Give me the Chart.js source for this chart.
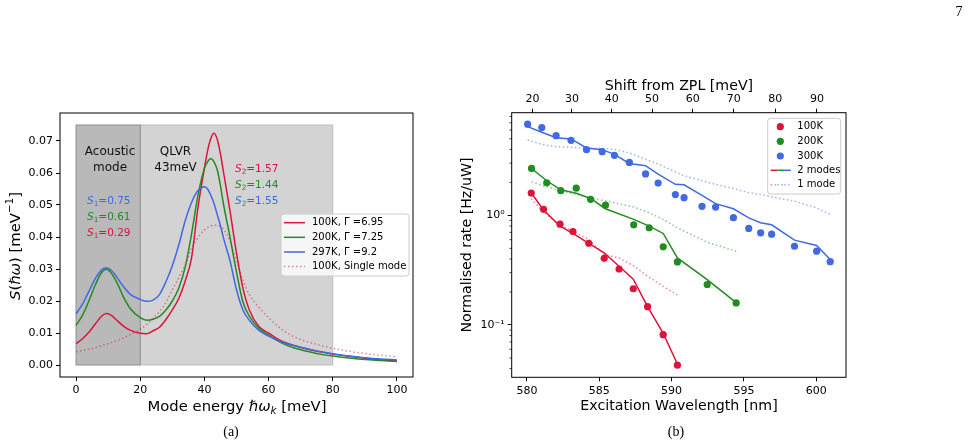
<!DOCTYPE html>
<html>
<head>
<meta charset="utf-8">
<script src="https://cdn.jsdelivr.net/npm/chart.js@4.4.0/dist/chart.umd.min.js"></script>
<style>
    body { margin: 0; background: #fff; width: 974px; height: 447px; position: relative; overflow: hidden; }
    #boxA { position: absolute; left: 0; top: 0; width: 440px; height: 447px; }
    #boxB { position: absolute; left: 440px; top: 0; width: 534px; height: 447px; }
    .cap { position: absolute; font-family: 'Liberation Serif', 'DejaVu Serif', serif; font-size: 14px; color: #000; transform: translate(-50%, -50%); }
</style>
</head>
<body>
<div id="boxA"><canvas id="chartA" width="440" height="447"></canvas></div>
<div id="boxB"><canvas id="chartB" width="534" height="447"></canvas></div>
<div class="cap" style="left:959px; top:12px;">7</div>
<div class="cap" style="left:231px; top:432px;">(a)</div>
<div class="cap" style="left:676px; top:432px;">(b)</div>

<script>
// ---------- panel (a): spectral density vs mode energy ----------
const energy = [0, 2, 4, 6, 8, 9.5, 11, 13, 15, 17, 20, 22, 24, 26, 28, 30, 32, 34, 36, 38,
    40, 41, 42, 43, 44, 45, 46, 48, 50, 52, 54, 57, 60, 64, 68, 72, 76, 80, 85, 90, 95, 100];
const s100K = [0.0067, 0.0082, 0.0102, 0.0128, 0.0153, 0.0161, 0.0155, 0.0137, 0.0120, 0.0108,
    0.0099, 0.0098, 0.0107, 0.0118, 0.0142, 0.0172, 0.0208, 0.0262, 0.0335, 0.0493,
    0.0615, 0.0670, 0.0708, 0.0724, 0.0705, 0.0660, 0.0600, 0.0480, 0.0350, 0.0240,
    0.0172, 0.0120, 0.0100, 0.0075, 0.0061, 0.0050, 0.0041, 0.0034, 0.0027, 0.0021, 0.0016, 0.0013];
const s200K = [0.0124, 0.0155, 0.0200, 0.0250, 0.0290, 0.0299, 0.0287, 0.0252, 0.0208, 0.0175,
    0.0148, 0.0140, 0.0143, 0.0152, 0.0172, 0.0200, 0.0240, 0.0305, 0.0410, 0.0530,
    0.0615, 0.0635, 0.0645, 0.0635, 0.0610, 0.0560, 0.0500, 0.0398, 0.0290, 0.0197,
    0.0153, 0.0115, 0.0093, 0.0069, 0.0053, 0.0043, 0.0034, 0.0028, 0.0022, 0.0017, 0.0014, 0.0011];
const s297K = [0.0160, 0.0190, 0.0230, 0.0270, 0.0298, 0.0304, 0.0296, 0.0270, 0.0242, 0.0220,
    0.0205, 0.0199, 0.0203, 0.0220, 0.0260, 0.0310, 0.0375, 0.0450, 0.0508, 0.0545,
    0.0557, 0.0550, 0.0530, 0.0505, 0.0470, 0.0435, 0.0395, 0.0325, 0.0235, 0.0172,
    0.0140, 0.0108, 0.0090, 0.0072, 0.0060, 0.0051, 0.0042, 0.0035, 0.0028, 0.0023, 0.0019, 0.0016];
const s100KSingle = [0.0041, 0.0045, 0.0049, 0.0054, 0.0060, 0.0065, 0.0070, 0.0077, 0.0086, 0.0096,
    0.0111, 0.0127, 0.0145, 0.0167, 0.0195, 0.0235, 0.0272, 0.0312, 0.0365, 0.0398,
    0.0422, 0.0430, 0.0434, 0.0437, 0.0436, 0.0432, 0.0424, 0.0385, 0.0325, 0.0265,
    0.0220, 0.0180, 0.0148, 0.0112, 0.0088, 0.0073, 0.0062, 0.0052, 0.0043, 0.0036, 0.0030, 0.0026];
const labelsA = ['100K, Γ =6.95', '200K, Γ =7.25', '297K, Γ =9.2', '100K, Single mode'];
const energyTicks = [0, 20, 40, 60, 80, 100];
const densityTicks = [0, 0.01, 0.02, 0.03, 0.04, 0.05, 0.06, 0.07];
const acousticBand = [0, 20];
const qlvrBand = [20, 80];
const bandTop = 0.075;
const s1Values = ['0.75', '0.61', '0.29'];   // 297K, 200K, 100K
const s2Values = ['1.57', '1.44', '1.55'];   // 100K, 200K, 297K

// ---------- panel (b): normalised rate vs excitation wavelength ----------
const wl100K = [580.30, 581.15, 582.29, 583.18, 584.28, 585.34, 586.37, 587.35, 588.34, 589.42, 590.40];
const rate100K = [1.60, 1.135, 0.832, 0.713, 0.557, 0.406, 0.324, 0.214, 0.147, 0.0815, 0.0430];
const twoMode100K = [1.60, 1.12, 0.798, 0.684, 0.554, 0.454, 0.343, 0.262, 0.147, 0.0839, 0.0440];
const oneMode100K = [1.42, 1.07, 0.810, 0.718, 0.602, 0.439, 0.409, 0.348, 0.278, 0.225, 0.188];

const wl200K = [580.32, 581.37, 582.34, 583.41, 584.40, 585.43, 587.38, 588.45, 589.42, 590.40, 592.46, 594.46];
const rate200K = [2.68, 1.98, 1.68, 1.77, 1.40, 1.24, 0.821, 0.771, 0.516, 0.376, 0.234, 0.159];
const twoMode200K = [2.68, 2.07, 1.71, 1.59, 1.43, 1.15, 0.919, 0.798, 0.684, 0.409, 0.259, 0.160];
const oneMode200K = [2.02, 1.83, 1.67, 1.56, 1.44, 1.36, 1.19, 1.06, 0.919, 0.771, 0.569, 0.471];

const wl300K = [580.05, 581.03, 582.02, 583.05, 584.12, 585.20, 586.05, 587.08, 588.20, 589.07, 590.26,
    590.86, 592.10, 593.04, 594.27, 595.33, 596.15, 596.91, 598.49, 600.02, 600.96];
const rate300K = [6.79, 6.33, 5.34, 4.84, 3.98, 3.81, 3.53, 3.04, 2.39, 1.97, 1.55,
    1.45, 1.21, 1.19, 0.952, 0.760, 0.693, 0.674, 0.523, 0.471, 0.378];
const twoMode300K = [6.46, 5.73, 5.12, 4.98, 4.12, 3.98, 3.60, 2.98, 2.84, 2.38, 1.92,
    1.90, 1.52, 1.28, 1.15, 0.95, 0.857, 0.821, 0.594, 0.531, 0.395];
const oneMode300K = [4.88, 4.45, 4.24, 4.18, 4.12, 4.09, 4.00, 3.71, 3.26, 2.94, 2.50,
    2.30, 2.07, 1.92, 1.76, 1.61, 1.55, 1.48, 1.35, 1.17, 1.02];

const labelsB = ['100K', '200K', '300K', '2 modes', '1 mode'];
const wavelengthTicks = [580, 585, 590, 595, 600];
const shiftTicks = [20, 30, 40, 50, 60, 70, 80, 90];
const zplWavelength = 575;

const RED = '#dc143c', GREEN = '#228b22', BLUE = '#4169e1';
const RED_FAINT = 'rgba(220,20,60,0.5)', GREEN_FAINT = 'rgba(34,139,34,0.5)', BLUE_FAINT = 'rgba(65,105,225,0.5)';
const FONT = '"DejaVu Sans", sans-serif';

Chart.defaults.font.family = FONT;
Chart.defaults.color = '#000';

function toXY(xs, ys) {
    return xs.map((x, i) => ({ x: x, y: ys[i] }));
}

// shift (meV) from the ZPL -> wavelength (nm)
function shiftToWl(s) {
    return 1239.842 / (1239.842 / zplWavelength - s / 1000);
}

// text with italic / sub / superscript pieces, centred on (x, y)
function drawRich(ctx, parts, x, y, size, color, rotate) {
    ctx.save();
    ctx.translate(x, y);
    if (rotate) ctx.rotate(-Math.PI / 2);
    ctx.fillStyle = color || '#000';
    ctx.textBaseline = 'middle';
    ctx.textAlign = 'left';
    const fontOf = p => (p.i ? 'italic ' : '') + ((p.sub || p.sup) ? size * 0.7 : size) + 'px ' + FONT;
    let total = 0;
    parts.forEach(p => { ctx.font = fontOf(p); total += ctx.measureText(p.t).width; });
    let cx = -total / 2;
    parts.forEach(p => {
        ctx.font = fontOf(p);
        const dy = p.sub ? size * 0.3 : (p.sup ? -size * 0.38 : 0);
        ctx.fillText(p.t, cx, dy);
        cx += ctx.measureText(p.t).width;
    });
    ctx.restore();
}

function legendFrame(ctx, l, t, r, b) {
    ctx.fillStyle = 'rgba(255,255,255,0.8)';
    ctx.strokeStyle = '#cccccc';
    ctx.lineWidth = 1;
    ctx.beginPath();
    if (ctx.roundRect) ctx.roundRect(l, t, r - l, b - t, 3);
    else ctx.rect(l, t, r - l, b - t);
    ctx.fill();
    ctx.stroke();
}

function tickAxis(ticksArr, fmt) {
    return {
        afterBuildTicks: s => { s.ticks = ticksArr.map(v => ({ value: v })); },
        ticks: { callback: fmt, font: { size: 11 }, color: '#000', padding: 3, maxRotation: 0, autoSkip: false },
        grid: { drawOnChartArea: false, drawTicks: true, tickLength: 4, tickWidth: 1, tickColor: '#000', color: '#000' },
        border: { display: false }
    };
}

// ---------- chart (a) ----------
const panelA = {
    id: 'panelA',
    beforeDatasetsDraw(chart) {
        const { ctx, scales: { x, y } } = chart;
        function band(range, fill, edge) {
            const l = x.getPixelForValue(range[0]), r = x.getPixelForValue(range[1]);
            const t = y.getPixelForValue(bandTop), b = y.getPixelForValue(0);
            ctx.fillStyle = fill;
            ctx.fillRect(l, t, r - l, b - t);
            ctx.strokeStyle = edge;
            ctx.lineWidth = 1;
            ctx.strokeRect(l, t, r - l, b - t);
        }
        ctx.save();
        band(qlvrBand, '#d3d3d3', '#bdbdbd');
        band(acousticBand, '#b9b9b9', '#8e8e8e');
        ctx.restore();
    },
    afterDraw(chart) {
        const { ctx, chartArea: a, scales: { x, y } } = chart;
        ctx.save();
        ctx.strokeStyle = '#000';
        ctx.lineWidth = 1;
        ctx.strokeRect(a.left, a.top, a.right - a.left, a.bottom - a.top);

        // region labels
        const px = v => x.getPixelForValue(v), py = v => y.getPixelForValue(v);
        drawRich(ctx, [{ t: 'Acoustic' }], px(10.6), py(0.0665), 12, '#111');
        drawRich(ctx, [{ t: 'mode' }], px(10.6), py(0.0615), 12, '#111');
        drawRich(ctx, [{ t: 'QLVR' }], px(31), py(0.0665), 12, '#111');
        drawRich(ctx, [{ t: '43meV' }], px(31), py(0.0615), 12, '#111');

        const s1Colors = [BLUE, GREEN, RED];
        s1Values.forEach((v, i) => {
            drawRich(ctx, [{ t: 'S', i: true }, { t: '1', sub: true }, { t: '=' + v }],
                px(10.2), py(0.0512 - i * 0.005), 10.5, s1Colors[i]);
        });
        const s2Colors = [RED, GREEN, BLUE];
        s2Values.forEach((v, i) => {
            drawRich(ctx, [{ t: 'S', i: true }, { t: '2', sub: true }, { t: '=' + v }],
                px(56.3), py(0.0612 - i * 0.005), 10.5, s2Colors[i]);
        });

        // axis titles
        drawRich(ctx, [{ t: 'S', i: true }, { t: '(' }, { t: 'ℏω', i: true }, { t: ')' }, { t: ' [meV' },
            { t: '−1', sup: true }, { t: ']' }], 16, 246, 14.8, '#000', true);
        drawRich(ctx, [{ t: 'Mode energy ' }, { t: 'ℏω', i: true }, { t: 'k', i: true, sub: true },
            { t: ' [meV]' }], 237, 407, 14.8, '#000');

        // legend
        legendFrame(ctx, 281, 214, 409, 276);
        const colors = [RED, GREEN, BLUE, RED_FAINT];
        const rows = [222.7, 237.3, 252, 266.5];
        labelsA.forEach((lab, i) => {
            ctx.strokeStyle = colors[i];
            ctx.lineWidth = 1.5;
            ctx.setLineDash(i === 3 ? [1.5, 2.5] : []);
            ctx.beginPath();
            ctx.moveTo(284, rows[i]);
            ctx.lineTo(305, rows[i]);
            ctx.stroke();
            ctx.setLineDash([]);
            ctx.fillStyle = '#000';
            ctx.font = '10px ' + FONT;
            ctx.textAlign = 'left';
            ctx.textBaseline = 'middle';
            ctx.fillText(lab, 312, rows[i]);
        });
        ctx.restore();
    }
};

function curve(ys, color, dash, order) {
    return {
        data: toXY(energy, ys),
        borderColor: color,
        borderWidth: 1.5,
        borderDash: dash,
        pointRadius: 0,
        fill: false,
        cubicInterpolationMode: 'monotone',
        order: order
    };
}

new Chart(document.getElementById('chartA'), {
    type: 'line',
    data: {
        datasets: [
            curve(s100K, RED, [], 3),
            curve(s200K, GREEN, [], 2),
            curve(s297K, BLUE, [], 1),
            curve(s100KSingle, RED_FAINT, [1.5, 2.5], 0)
        ]
    },
    options: {
        responsive: false,
        animation: false,
        layout: { padding: { left: 0, top: 113, right: 27, bottom: 0 } },
        plugins: { legend: { display: false }, tooltip: { enabled: false } },
        scales: {
            x: Object.assign({ type: 'linear', min: -5, max: 105,
                afterFit: s => { s.height = 70; } }, tickAxis(energyTicks, v => String(v))),
            y: Object.assign({ type: 'linear', min: -0.00375, max: 0.07875,
                afterFit: s => { s.width = 60; } }, tickAxis(densityTicks, v => v.toFixed(2)))
        }
    },
    plugins: [panelA]
});

// ---------- chart (b) ----------
const minorRateTicks = [];
[0.01, 0.1, 1].forEach(d => { for (let k = 2; k <= 9; k++) minorRateTicks.push(k * d); });

const panelB = {
    id: 'panelB',
    afterDraw(chart) {
        const { ctx, chartArea: a, scales: { y } } = chart;
        ctx.save();
        ctx.strokeStyle = '#000';
        ctx.lineWidth = 0.7;
        minorRateTicks.forEach(v => {
            if (v < y.min || v > y.max) return;
            const p = y.getPixelForValue(v);
            ctx.beginPath();
            ctx.moveTo(a.left - 2.3, p);
            ctx.lineTo(a.left, p);
            ctx.stroke();
        });
        ctx.lineWidth = 1;
        ctx.strokeRect(a.left, a.top, a.right - a.left, a.bottom - a.top);

        drawRich(ctx, [{ t: 'Normalised rate [Hz/uW]' }], 27, 245, 14.2, '#000', true);
        drawRich(ctx, [{ t: 'Excitation Wavelength [nm]' }], 239, 406, 14.2, '#000');
        drawRich(ctx, [{ t: 'Shift from ZPL [meV]' }], 239, 86, 14.2, '#000');

        // legend
        legendFrame(ctx, 327.7, 118.3, 400.7, 194);
        const rows = [126.7, 141.3, 156, 170.3, 184.7];
        const dots = [RED, GREEN, BLUE];
        ctx.fillStyle = '#000';
        dots.forEach((c, i) => {
            ctx.fillStyle = c;
            ctx.beginPath();
            ctx.arc(340.3, rows[i], 3.6, 0, Math.PI * 2);
            ctx.fill();
        });
        const solid = [RED, GREEN, BLUE], faint = [RED_FAINT, GREEN_FAINT, BLUE_FAINT];
        [solid, faint].forEach((set, r) => {
            ctx.lineWidth = 1.5;
            ctx.setLineDash(r === 1 ? [1.5, 2.5] : []);
            set.forEach((c, j) => {
                ctx.strokeStyle = c;
                ctx.beginPath();
                ctx.moveTo(330.7 + j * 6.7, rows[3 + r]);
                ctx.lineTo(330.7 + (j + 1) * 6.7, rows[3 + r]);
                ctx.stroke();
            });
        });
        ctx.setLineDash([]);
        ctx.fillStyle = '#000';
        ctx.font = '10px ' + FONT;
        ctx.textAlign = 'left';
        ctx.textBaseline = 'middle';
        labelsB.forEach((lab, i) => ctx.fillText(lab, 357.3, rows[i]));
        ctx.restore();
    }
};

function dots(xs, ys, color) {
    return { data: toXY(xs, ys), showLine: false, pointRadius: 3.6, pointBorderWidth: 0,
        pointBackgroundColor: color, pointBorderColor: color, order: 0 };
}
function fitLine(xs, ys, color, dash) {
    return { data: toXY(xs, ys), borderColor: color, borderWidth: 1.5, borderDash: dash,
        pointRadius: 0, fill: false, tension: 0, order: dash.length ? 2 : 1 };
}

const logLabels = { 1: '10⁰', 0.1: '10⁻¹' };

new Chart(document.getElementById('chartB'), {
    type: 'line',
    data: {
        datasets: [
            dots(wl100K, rate100K, RED),
            dots(wl200K, rate200K, GREEN),
            dots(wl300K, rate300K, BLUE),
            fitLine(wl100K, twoMode100K, RED, []),
            fitLine(wl200K, twoMode200K, GREEN, []),
            fitLine(wl300K, twoMode300K, BLUE, []),
            fitLine(wl100K, oneMode100K, RED_FAINT, [1.5, 2.5]),
            fitLine(wl200K, oneMode200K, GREEN_FAINT, [1.5, 2.5]),
            fitLine(wl300K, oneMode300K, BLUE_FAINT, [1.5, 2.5])
        ]
    },
    options: {
        responsive: false,
        animation: false,
        layout: { padding: { left: 0, top: 0, right: 128, bottom: 0 } },
        plugins: { legend: { display: false }, tooltip: { enabled: false } },
        scales: {
            x: Object.assign({ type: 'linear', position: 'bottom', min: 578.95, max: 602.05,
                afterFit: s => { s.height = 69.7; } }, tickAxis(wavelengthTicks, v => String(v))),
            x2: Object.assign({ type: 'linear', position: 'top', min: 578.95, max: 602.05,
                afterFit: s => { s.height = 112.7; } },
                tickAxis(shiftTicks.map(shiftToWl), (v, i) => String(shiftTicks[i]))),
            y: Object.assign({ type: 'logarithmic', min: 0.0333, max: 8.65,
                afterFit: s => { s.width = 71.7; } },
                tickAxis([0.1, 1], v => logLabels[v] || ''))
        }
    },
    plugins: [panelB]
});
</script>
</body>
</html>
